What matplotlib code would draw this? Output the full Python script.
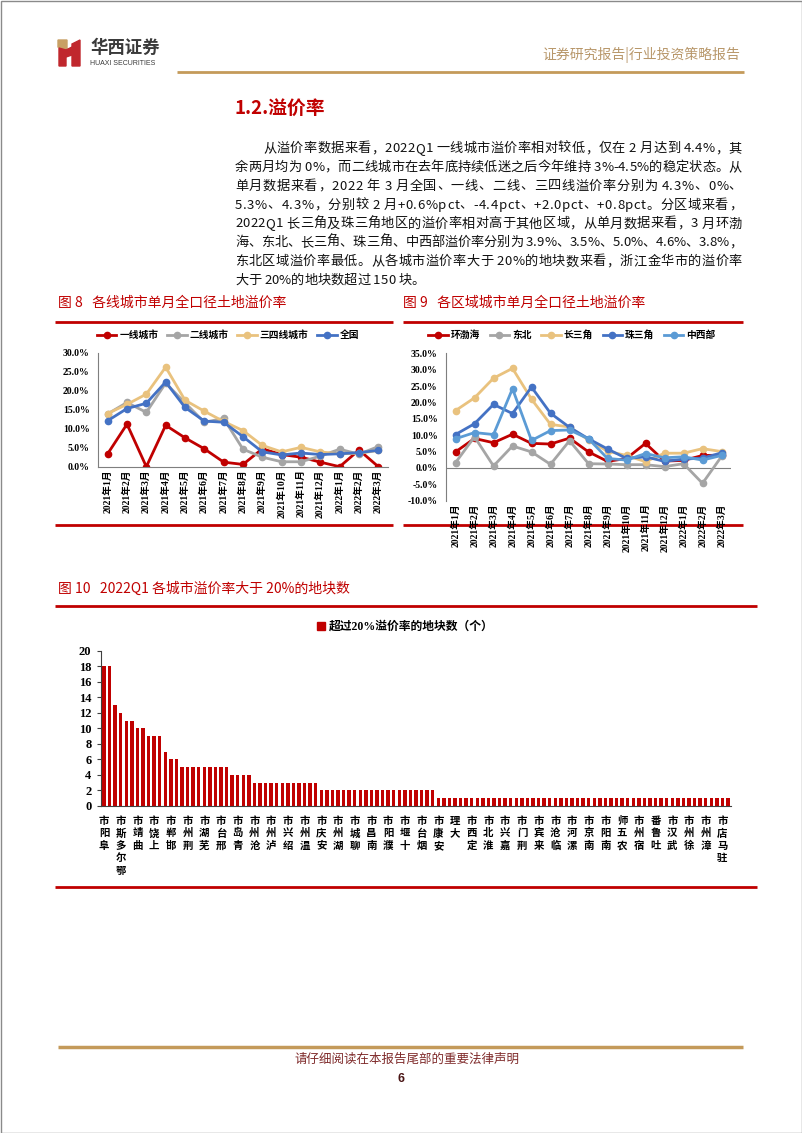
import numpy as np
import matplotlib
matplotlib.use('Agg')
import matplotlib.pyplot as plt
from matplotlib.patches import Patch, Polygon, Rectangle
from matplotlib.font_manager import FontProperties, findfont, get_font

plt.rcParams['font.family'] = ['Noto Sans CJK SC', 'DejaVu Sans']
plt.rcParams['axes.unicode_minus'] = False

W, H = 802, 1133

# ---- data ----
months = ['2021年1月', '2021年2月', '2021年3月', '2021年4月', '2021年5月', '2021年6月',
          '2021年7月', '2021年8月', '2021年9月', '2021年10月', '2021年11月', '2021年12月',
          '2022年1月', '2022年2月', '2022年3月']

# fig 8: premium rate by city tier (%)
tier1 = [3.4, 11.2, 0.0, 10.9, 7.6, 4.7, 1.2, 0.6, 4.7, 3.2, 2.5, 1.2, 0.0, 4.4, 0.0]
tier2 = [13.9, 16.9, 14.3, 22.0, 16.8, 11.7, 12.7, 4.6, 2.5, 1.3, 1.3, 2.8, 4.6, 3.3, 5.3]
tier34 = [14.0, 16.4, 19.1, 26.2, 17.5, 14.6, 11.9, 9.5, 5.6, 3.9, 5.1, 3.9, 3.4, 3.5, 4.3]
national = [12.1, 15.3, 16.7, 22.3, 15.6, 12.0, 11.7, 7.9, 3.9, 3.1, 3.6, 3.2, 3.4, 3.7, 4.3]

# fig 9: premium rate by region (%)
bohai = [4.9, 9.0, 7.7, 10.3, 7.5, 7.3, 9.1, 4.9, 2.0, 2.9, 7.5, 2.1, 2.3, 3.8, 3.9]
northeast = [1.6, 9.5, 0.6, 6.7, 4.9, 1.1, 8.3, 1.3, 1.2, 1.0, 1.0, 0.4, 1.3, -4.7, 3.5]
yrd = [17.5, 21.4, 27.4, 30.4, 21.0, 13.3, 12.5, 8.5, 5.1, 3.8, 1.9, 4.5, 4.5, 5.9, 5.0]
prd = [10.2, 13.5, 19.4, 16.6, 24.7, 16.7, 12.4, 8.9, 5.8, 2.9, 3.4, 2.0, 2.7, 3.0, 4.6]
central_west = [8.9, 10.8, 10.2, 24.2, 8.4, 11.4, 11.6, 8.9, 2.9, 2.4, 4.4, 3.1, 3.4, 2.4, 3.8]

# fig 10: plots with premium > 20% per city (only every third city is labelled)
counts = [18, 18, 13, 12, 11, 11, 10, 10, 9, 9, 9, 7, 6, 6,
          5, 5, 5, 5, 5, 5, 5, 5, 5,
          4, 4, 4, 4,
          3, 3, 3, 3, 3, 3, 3, 3, 3, 3, 3, 3,
          2, 2, 2, 2, 2, 2, 2, 2, 2, 2, 2, 2, 2, 2, 2, 2, 2, 2, 2, 2, 2,
          1, 1, 1, 1, 1, 1, 1, 1, 1, 1, 1, 1, 1, 1, 1, 1, 1, 1, 1, 1, 1, 1, 1, 1, 1, 1,
          1, 1, 1, 1, 1, 1, 1, 1, 1, 1, 1, 1, 1, 1, 1, 1, 1, 1, 1, 1, 1, 1, 1, 1, 1, 1, 1]
city_labels = ['阜阳市', '鄂尔多斯市', '曲靖市', '上饶市', '邯郸市', '荆州市', '芜湖市', '邢台市',
               '青岛市', '沧州市', '泸州市', '绍兴市', '温州市', '安庆市', '湖州市', '聊城市',
               '南昌市', '濮阳市', '十堰市', '烟台市', '安康市', '大理', '定西市', '淮北市',
               '嘉兴市', '荆门市', '来宾市', '临沧市', '漯河市', '南京市', '南阳市', '农五师',
               '宿州市', '吐鲁番', '武汉市', '徐州市', '漳州市', '驻马店市']

body_lines = [
    '从溢价率数据来看，2022Q1 一线城市溢价率相对较低，仅在 2 月达到 4.4%，其',
    '余两月均为 0%，而二线城市在去年底持续低迷之后今年维持 3%-4.5%的稳定状态。从',
    '单月数据来看，2022 年 3 月全国、一线、二线、三四线溢价率分别为 4.3%、0%、',
    '5.3%、4.3%，分别较 2 月+0.6%pct、-4.4pct、+2.0pct、+0.8pct。分区域来看，',
    '2022Q1 长三角及珠三角地区的溢价率相对高于其他区域，从单月数据来看，3 月环渤',
    '海、东北、长三角、珠三角、中西部溢价率分别为 3.9%、3.5%、5.0%、4.6%、3.8%，',
    '东北区域溢价率最低。从各城市溢价率大于 20%的地块数来看，浙江金华市的溢价率',
    '大于 20%的地块数超过 150 块。',
]

RED = '#C00000'
GRAY = '#A5A5A5'
GOLD = '#E9C27E'
BLUE = '#4472C4'
LBLUE = '#5B9BD5'
TAN = '#C49A5A'
AXC = '#7F7F7F'
SERIF = ['Liberation Serif', 'Noto Sans CJK SC']

fig = plt.figure(figsize=(W / 100, H / 100), dpi=100)
page = fig.add_axes([0, 0, 1, 1])
page.set_xlim(0, W)
page.set_ylim(H, 0)
page.axis('off')


def box(x0, y0, x1, y1):
    return [x0 / W, 1 - y1 / H, (x1 - x0) / W, (y1 - y0) / H]


def hline(x0, x1, y, color, lw):
    page.plot([x0, x1], [y, y], color=color, lw=lw, solid_capstyle='butt')


# page frame
page.add_patch(Rectangle((0.5, 0.5), W - 1, H - 1, fill=False, ec='#8a8a8a', lw=1))

# ---- header ----
page.add_patch(Polygon([(58, 40), (67, 40), (67, 50), (58, 47)], color='#C8A064'))
page.add_patch(Polygon([(59, 48), (66, 50), (66, 66), (59, 66)], color='#C0272D'))
page.add_patch(Polygon([(66, 50), (72, 47), (72, 55), (66, 57)], color='#C0272D'))
page.add_patch(Polygon([(72, 44), (80, 40), (80, 66), (72, 66)], color='#C0272D'))
page.text(90, 48, '华西证券', fontsize=12.5, fontweight='bold', color='#3a3a3a', va='center')
page.text(90, 63.5, 'HUAXI SECURITIES', fontsize=5, family='Liberation Sans', color='#3a3a3a', va='center')
page.text(740, 55, '证券研究报告|行业投资策略报告', fontsize=10, color='#B8976A', ha='right', va='center')
hline(177, 744, 72, TAN, 2)

page.text(235, 108, '1.2.溢价率', fontsize=13.5, fontweight='bold', color=RED, va='center')

# ---- body paragraph, justified character by character ----
body_fp = FontProperties(family='Noto Sans CJK SC', size=9.5)
body_font = get_font(findfont(body_fp))


def advance(ch):
    body_font.set_size(9.5, 100)
    return body_font.load_char(ord(ch)).linearHoriAdvance / 65536


for i, line in enumerate(body_lines):
    x0 = 263 if i == 0 else 235
    widths = [advance(c) for c in line]
    last = i == len(body_lines) - 1
    gap = 0 if last else (742 - x0 - sum(widths)) / (len(line) - 1)
    xc = x0
    yb = 147 + 18.86 * i + 5
    for c, w in zip(line, widths):
        page.text(xc, yb, c, fontproperties=body_fp, ha='left', va='baseline', color='#111111')
        xc += w + gap

# ---- figure titles and rules ----
page.text(58, 303, '图 8   各线城市单月全口径土地溢价率', fontsize=10, color=RED, va='center')
page.text(403, 303, '图 9   各区域城市单月全口径土地溢价率', fontsize=10, color=RED, va='center')
hline(55, 393, 321.5, RED, 2)
hline(403, 743, 321.5, RED, 2)
hline(55, 393, 525, RED, 2)
hline(403, 743, 525, RED, 2)
page.text(58, 589, '图 10   2022Q1 各城市溢价率大于 20%的地块数', fontsize=10, color=RED, va='center')
hline(55, 757, 606, RED, 2)
hline(55, 757, 887, RED, 2)

# ---- footer ----
hline(58, 743, 1047, TAN, 2.5)
page.text(407, 1059, '请仔细阅读在本报告尾部的重要法律声明', fontsize=9, color='#7F2A2A', ha='center', va='center')
page.text(401, 1079, '6', fontsize=9, fontweight='bold', color='#4a1515', ha='center', va='center',
          family='Liberation Sans')

leg_fp = FontProperties(family='Noto Sans CJK SC', weight='bold', size=7)
tick_kw = dict(fontfamily=SERIF, fontweight='bold')
xpos = np.arange(len(months))


def style_line_axes(ax):
    ax.set_facecolor('none')
    for s in ['top', 'right']:
        ax.spines[s].set_visible(False)
    for s in ['left', 'bottom']:
        ax.spines[s].set_color(AXC)
        ax.spines[s].set_linewidth(0.8)
    ax.tick_params(length=0, pad=2)
    ax.set_xlim(-0.5, len(months) - 0.5)
    ax.set_xticks(xpos)
    ax.set_xticklabels(months, rotation=90, fontsize=7, **tick_kw)


# ---- chart 8 ----
ax8 = fig.add_axes(box(98, 352.7, 388, 466.7))
for vals, c, name in [(tier1, RED, '一线城市'), (tier2, GRAY, '二线城市'),
                      (tier34, GOLD, '三四线城市'), (national, BLUE, '全国')]:
    ax8.plot(xpos, vals, color=c, lw=2, marker='o', ms=4.5, label=name)
style_line_axes(ax8)
ax8.set_ylim(0, 30)
yt8 = np.arange(0, 31, 5)
ax8.set_yticks(yt8)
ax8.set_yticklabels([f'{v:.1f}%' for v in yt8], fontsize=7, **tick_kw)
ax8.tick_params(axis='y', pad=6)
ax8.legend(loc='center', bbox_to_anchor=(228 / W, 1 - 335 / H), bbox_transform=fig.transFigure,
           ncol=4, frameon=False, prop=leg_fp, handlelength=2.0, columnspacing=0.9, handletextpad=0.3)

# ---- chart 9 ----
ax9 = fig.add_axes(box(446, 353.3, 731, 500.7))
for vals, c, name in [(bohai, RED, '环渤海'), (northeast, GRAY, '东北'), (yrd, GOLD, '长三角'),
                      (prd, BLUE, '珠三角'), (central_west, LBLUE, '中西部')]:
    ax9.plot(xpos, vals, color=c, lw=2, marker='o', ms=4.5, label=name)
style_line_axes(ax9)
ax9.spines['bottom'].set_visible(False)
ax9.axhline(0, color=AXC, lw=0.8, zorder=0)
ax9.set_ylim(-10, 35)
yt9 = np.arange(-10, 36, 5)
ax9.set_yticks(yt9)
ax9.set_yticklabels([f'{v:.1f}%' for v in yt9], fontsize=7, **tick_kw)
ax9.tick_params(axis='y', pad=6)
ax9.legend(loc='center', bbox_to_anchor=(572 / W, 1 - 335 / H), bbox_transform=fig.transFigure,
           ncol=5, frameon=False, prop=leg_fp, handlelength=2.0, columnspacing=1.0, handletextpad=0.3)

# ---- chart 10 ----
ax10 = fig.add_axes(box(101.2, 650.7, 730.8, 806))
ax10.set_facecolor('none')
xb = np.arange(len(counts))
ax10.bar(xb, counts, width=0.6, color=RED)
ax10.set_xlim(-0.5, len(counts) - 0.5)
ax10.set_ylim(0, 20)
for s in ['top', 'right']:
    ax10.spines[s].set_visible(False)
ax10.spines['left'].set_color('#404040')
ax10.spines['bottom'].set_color('#404040')
ax10.spines['left'].set_linewidth(0.8)
ax10.spines['bottom'].set_linewidth(0.8)
ax10.set_yticks(np.arange(0, 21, 2))
ax10.set_yticklabels([str(v) for v in range(0, 21, 2)], fontsize=9, **tick_kw)
ax10.tick_params(axis='y', length=3, width=0.8, color='#404040', pad=4)
ax10.set_xticks(xb[::3])
ax10.set_xticklabels(['\n'.join(reversed(c)) for c in city_labels], fontsize=7.5,
                     fontweight='bold', linespacing=1.3)
ax10.tick_params(axis='x', length=0, pad=7)
ax10.legend(handles=[Patch(color=RED)], labels=['超过20%溢价率的地块数（个）'], loc='center',
            bbox_to_anchor=(405 / W, 1 - 627 / H), bbox_transform=fig.transFigure, frameon=False,
            handlelength=0.7, handleheight=0.7, handletextpad=0.3,
            prop=FontProperties(family=SERIF, weight='bold', size=8.5))

fig.savefig('out.png', dpi=100)
